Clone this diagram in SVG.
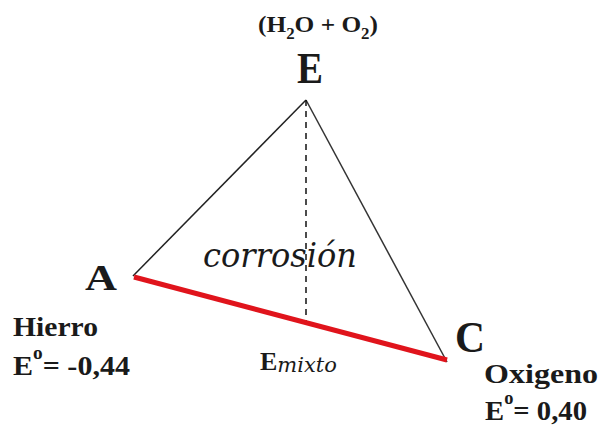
<svg xmlns="http://www.w3.org/2000/svg" width="605" height="430" viewBox="0 0 605 430">
<style>
text{font-family:"Liberation Serif","Times New Roman",serif;font-weight:bold;fill:#1a1a1a}
.lbl{font-size:28px}
.it{font-family:"DejaVu Serif","Liberation Serif",serif;font-style:italic;font-weight:normal}
</style>
<rect width="605" height="430" fill="#fff"/>
<g id="connectors">
<line x1="306" y1="100" x2="133" y2="276" stroke="#222" stroke-width="1.5"/>
<line x1="306" y1="100" x2="447" y2="362" stroke="#333" stroke-width="1.5"/>
<line x1="306" y1="100" x2="306" y2="322" stroke="#111" stroke-width="1.5" stroke-dasharray="6,5"/>
<line x1="134" y1="277" x2="447" y2="360" stroke="#e0141c" stroke-width="5"/>
</g>
<g id="node-E">
<text x="258" y="32" font-size="24" textLength="120" lengthAdjust="spacingAndGlyphs">(H<tspan font-size="16" dy="7">2</tspan><tspan dy="-7">O + O</tspan><tspan font-size="16" dy="7">2</tspan><tspan dy="-7">)</tspan></text>
<text x="297" y="83" font-size="44" textLength="26" lengthAdjust="spacingAndGlyphs">E</text>
</g>
<g id="node-A">
<text x="85" y="290" font-size="35" textLength="32" lengthAdjust="spacingAndGlyphs">A</text>
<text x="13" y="336" class="lbl" textLength="85" lengthAdjust="spacingAndGlyphs">Hierro</text>
<text x="13" y="375" class="lbl" textLength="117" lengthAdjust="spacingAndGlyphs">E<tspan font-size="18" dy="-16">o</tspan><tspan dy="16">= -0,44</tspan></text>
</g>
<g id="node-C">
<text x="455" y="352" font-size="44" textLength="30" lengthAdjust="spacingAndGlyphs">C</text>
<text x="484" y="383" class="lbl" textLength="114" lengthAdjust="spacingAndGlyphs">Oxigeno</text>
<text x="485" y="420" class="lbl" textLength="102" lengthAdjust="spacingAndGlyphs">E<tspan font-size="18" dy="-16">o</tspan><tspan dy="16">= 0,40</tspan></text>
</g>
<g id="node-corrosion">
<text x="203" y="267" font-size="34" class="it" fill="#2a2a2a" textLength="154" lengthAdjust="spacingAndGlyphs">corrosión</text>
</g>
<g id="node-Emixto">
<text x="260" y="370" font-size="26">E<tspan class="it" font-size="21" dy="2">mixto</tspan></text>
</g>
</svg>
